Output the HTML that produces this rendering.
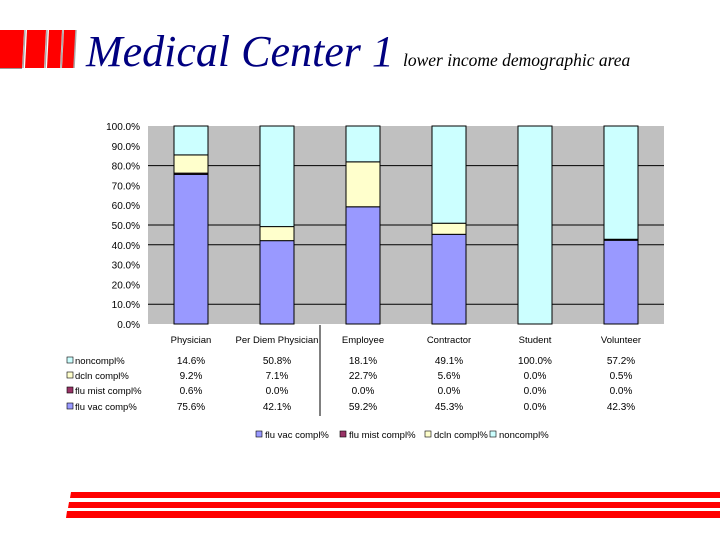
<!DOCTYPE html>
<html><head><meta charset="utf-8"><style>
body{margin:0;width:720px;height:540px;background:#fff;position:relative;overflow:hidden;font-family:"Liberation Sans",sans-serif}
</style></head><body>
<svg width="720" height="540" viewBox="0 0 720 540" xmlns="http://www.w3.org/2000/svg">
<g>
<polygon points="0,31 24,31 22,69 0,69" fill="#999"/>
<polygon points="0,30 24,30 22,68 0,68" fill="#f00"/>
<polygon points="27,30 46,30 44,68 25,68" fill="#f00"/>
<polygon points="49,30 62,30 60,68 47,68" fill="#f00"/>
<polygon points="64,30 76,30 74,68 62,68" fill="#f00"/>
<line x1="25" y1="30" x2="23" y2="68" stroke="#aaa" stroke-width="1.5"/>
<line x1="47" y1="30" x2="45" y2="68" stroke="#aaa" stroke-width="1.5"/>
<line x1="63" y1="30" x2="61" y2="68" stroke="#aaa" stroke-width="1.5"/>
<line x1="76" y1="30" x2="74" y2="68" stroke="#aaa" stroke-width="1.5"/>
</g>
<text x="86" y="66" font-family="Liberation Serif,serif" font-style="italic" font-size="44" fill="#000080">Medical Center 1</text>
<text x="403" y="66" font-family="Liberation Serif,serif" font-style="italic" font-size="17.5" fill="#000">lower income demographic area</text>
<g id="chart"></g>
<g>
<polygon points="71,492 720,492 720,498 70,498" fill="#f00"/>
<polygon points="69,502 720,502 720,508 68,508" fill="#f00"/>
<polygon points="67,511 720,511 720,518 66,518" fill="#f00"/>
</g>
</svg>
<script>
const categories=["Physician","Per Diem Physician","Employee","Contractor","Student","Volunteer"];
const fluVac=[75.6,42.1,59.2,45.3,0.0,42.3];
const fluMist=[0.6,0.0,0.0,0.0,0.0,0.0];
const dcln=[9.2,7.1,22.7,5.6,0.0,0.5];
const noncompl=[14.6,50.8,18.1,49.1,100.0,57.2];
const yTicks=[0,10,20,30,40,50,60,70,80,90,100];
const gridVals=[10,40,50,80];
const seriesNames=["flu vac compl%","flu mist compl%","dcln compl%","noncompl%"];
const ns="http://www.w3.org/2000/svg";
const g=document.getElementById('chart');
const L=148,R=664,T=126,B=324;
const bw=(R-L)/categories.length;
function y(v){return B-(B-T)*v/100;}
function xc(i){return L+bw*(i+0.5);}
function mk(t,a,txt){const e=document.createElementNS(ns,t);for(const k in a)e.setAttribute(k,a[k]);if(txt!==undefined)e.textContent=txt;g.appendChild(e);return e;}
let e=mk('rect',{x:L,y:T,width:R-L,height:B-T,fill:'#c0c0c0'});


gridVals.forEach(v=>{const l=mk('line',{x1:L,x2:R,y1:y(v),y2:y(v),stroke:'#000','stroke-width':1});

});
yTicks.forEach(v=>{const t=mk('text',{x:140,y:y(v)+4,'font-size':10,'text-anchor':'end',fill:'#000'},v.toFixed(1)+'%');

});
const colors=['#9999ff','#993366','#ffffcc','#ccffff'];
const series=[fluVac,fluMist,dcln,noncompl];
categories.forEach((c,i)=>{let acc=0;
series.forEach((s,k)=>{const v=s[i];if(v>0){const r=mk('rect',{x:xc(i)-17,y:y(acc+v),width:34,height:y(acc)-y(acc+v),fill:colors[k],stroke:'#000','stroke-width':1});

}acc+=v;});
const t=mk('text',{x:xc(i),y:343,'font-size':9.5,'text-anchor':'middle'},c);

});
const rows=[[noncompl,'noncompl%',colors[3],364],[dcln,'dcln compl%',colors[2],379],[fluMist,'flu mist compl%',colors[1],394],[fluVac,'flu vac comp%',colors[0],410]];
rows.forEach(([arr,name,col,ry])=>{
const k=mk('rect',{x:67,y:ry-7,width:6,height:6,fill:col,stroke:'#000','stroke-width':0.6});


const n=mk('text',{x:75,y:ry,'font-size':9.5},name);


arr.forEach((v,i)=>{const t=mk('text',{x:xc(i),y:ry,'font-size':10,'text-anchor':'middle'},v.toFixed(1)+'%');

});});
e=mk('line',{x1:320,x2:320,y1:325,y2:416,stroke:'#000','stroke-width':1});


const lx=[256,340,425,490];
seriesNames.forEach((s,k)=>{
const r=mk('rect',{x:lx[k],y:431,width:6,height:6,fill:colors[k],stroke:'#000','stroke-width':0.6});


const t=mk('text',{x:lx[k]+9,y:438,'font-size':9.5},s);

});
</script>
</body></html>
